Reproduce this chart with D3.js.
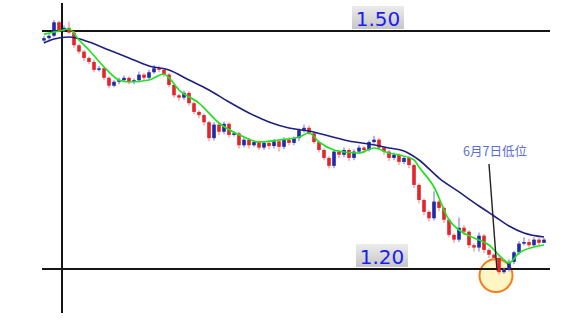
<!DOCTYPE html>
<html>
<head>
<meta charset="utf-8">
<script src="https://cdn.jsdelivr.net/npm/d3@7"></script>
<style>
  body { margin: 0; background: #fff; }
  svg { display: block; }
</style>
</head>
<body>
<div class="chart"></div>
<script>
// daily candles, oldest first
const opens = [
  1.488,1.491,1.494,1.511,1.501,1.504,1.498,1.482,1.474,1.466,
  1.461,1.451,1.453,1.441,1.431,1.436,1.438,1.441,1.436,1.438,
  1.445,1.441,1.448,1.453,1.451,1.445,1.432,1.419,1.416,1.422,
  1.409,1.398,1.394,1.385,1.365,1.382,1.373,1.383,1.369,1.371,
  1.356,1.363,1.356,1.360,1.353,1.359,1.355,1.361,1.354,1.363,
  1.359,1.365,1.375,1.378,1.371,1.360,1.350,1.340,1.330,1.348,
  1.344,1.350,1.340,1.348,1.353,1.350,1.360,1.363,1.353,1.348,
  1.340,1.344,1.335,1.340,1.331,1.306,1.287,1.272,1.264,1.285,
  1.277,1.262,1.243,1.237,1.252,1.247,1.230,1.227,1.242,1.224,
  1.218,1.214,1.196,1.199,1.209,1.221,1.232,1.234,1.230,1.237,
  1.233
];
const closes = [
  1.491,1.494,1.511,1.501,1.504,1.498,1.482,1.474,1.466,1.461,
  1.451,1.453,1.441,1.431,1.436,1.438,1.441,1.436,1.438,1.445,
  1.441,1.448,1.453,1.451,1.445,1.432,1.419,1.416,1.422,1.409,
  1.398,1.394,1.385,1.365,1.382,1.373,1.383,1.369,1.371,1.356,
  1.363,1.356,1.360,1.353,1.359,1.355,1.361,1.354,1.363,1.359,
  1.365,1.375,1.378,1.371,1.360,1.350,1.340,1.330,1.348,1.344,
  1.350,1.340,1.348,1.353,1.350,1.360,1.363,1.353,1.348,1.340,
  1.344,1.335,1.340,1.331,1.306,1.287,1.272,1.264,1.285,1.277,
  1.262,1.243,1.237,1.252,1.247,1.230,1.227,1.242,1.224,1.218,
  1.214,1.196,1.199,1.209,1.221,1.232,1.234,1.230,1.237,1.233,
  1.237
];
const highs = [
  1.494,1.497,1.514,1.513,1.507,1.512,1.500,1.484,1.476,1.468,
  1.464,1.456,1.455,1.443,1.438,1.441,1.444,1.443,1.440,1.449,
  1.447,1.451,1.457,1.456,1.453,1.447,1.434,1.421,1.425,1.424,
  1.411,1.400,1.396,1.387,1.385,1.384,1.386,1.385,1.374,1.373,
  1.366,1.365,1.362,1.362,1.361,1.361,1.364,1.363,1.366,1.366,
  1.367,1.377,1.382,1.381,1.373,1.362,1.352,1.342,1.350,1.350,
  1.353,1.352,1.351,1.356,1.355,1.362,1.368,1.365,1.355,1.350,
  1.347,1.346,1.342,1.342,1.333,1.308,1.289,1.274,1.298,1.287,
  1.279,1.264,1.245,1.265,1.255,1.249,1.232,1.246,1.244,1.226,
  1.220,1.216,1.202,1.212,1.223,1.235,1.240,1.238,1.240,1.240,
  1.239
];
const lows = [
  1.486,1.489,1.492,1.499,1.499,1.496,1.479,1.471,1.462,1.458,
  1.448,1.449,1.438,1.428,1.429,1.433,1.436,1.433,1.433,1.435,
  1.438,1.439,1.446,1.448,1.442,1.429,1.416,1.412,1.413,1.406,
  1.395,1.390,1.381,1.361,1.362,1.369,1.370,1.366,1.367,1.352,
  1.353,1.352,1.354,1.350,1.350,1.351,1.352,1.348,1.351,1.356,
  1.356,1.361,1.372,1.369,1.358,1.347,1.337,1.327,1.327,1.340,
  1.341,1.336,1.337,1.346,1.346,1.348,1.358,1.350,1.344,1.336,
  1.337,1.331,1.332,1.327,1.302,1.283,1.268,1.260,1.261,1.273,
  1.258,1.240,1.233,1.234,1.243,1.226,1.222,1.222,1.220,1.214,
  1.210,1.193,1.194,1.197,1.206,1.218,1.230,1.227,1.228,1.230,
  1.233
];

// moving averages at these candle indices
const fastIdx = [0,3,5,7,9,12,15,17,21,24,25,27,31,35,40,43,47,51,53,55,58,60,63,66,69,71,74,75,78,81,83,86,89,91,93,95,98,100];
const fastMa = [1.496,1.500,1.5025,1.4887,1.476,1.4546,1.4382,1.4357,1.4382,1.4458,1.4408,1.4256,1.4092,1.384,1.3664,1.3601,1.3626,1.3664,1.3714,1.3601,1.35,1.3475,1.3462,1.3525,1.3462,1.3437,1.3374,1.3286,1.3034,1.2618,1.2492,1.2391,1.2303,1.2176,1.2076,1.2202,1.2277,1.2303];
const slowIdx = [0,2,5,9,13,17,21,25,29,33,37,41,45,49,53,57,61,65,69,72,75,79,83,87,90,93,96,100];
const slowMa = [1.4849,1.4899,1.4924,1.4861,1.476,1.466,1.4559,1.4508,1.4382,1.4256,1.4105,1.3966,1.3853,1.3777,1.3739,1.3676,1.3613,1.3575,1.3525,1.3487,1.3374,1.3147,1.2971,1.2794,1.2668,1.2542,1.2454,1.2403];

const levels = [1.50, 1.20];
const levelLabels = ["1.50", "1.20"];
const lowIndex = 91;
const noteText = "6月7日低位";

const width = 580, height = 325;

const x = d3.scaleLinear().domain([0, 100]).range([44, 544]);
const y = d3.scaleLinear().domain([1.20, 1.50]).range([269, 31]);

const svg = d3.select(".chart").append("svg")
  .attr("width", width)
  .attr("height", height);

const defs = svg.append("defs");
const grad = defs.append("linearGradient")
  .attr("id", "lblGrad").attr("x1", 0).attr("y1", 0).attr("x2", 0).attr("y2", 1);
grad.append("stop").attr("offset", "0%").attr("stop-color", "#ececec");
grad.append("stop").attr("offset", "100%").attr("stop-color", "#c6c6c6");

// highlight circle at the low
svg.append("circle")
  .attr("cx", x(lowIndex) - 3)
  .attr("cy", y(lows[lowIndex]) + 1)
  .attr("r", 16.5)
  .attr("fill", "#fff6c4")
  .attr("stroke", "#f47c20")
  .attr("stroke-width", 2);

// level lines
svg.append("g")
  .selectAll("line")
  .data(levels)
  .join("line")
  .attr("x1", 42)
  .attr("x2", 550)
  .attr("y1", d => y(d))
  .attr("y2", d => y(d))
  .attr("stroke", "#151515")
  .attr("stroke-width", 2);

// vertical marker
svg.append("line")
  .attr("x1", 62).attr("x2", 62)
  .attr("y1", 3).attr("y2", 313)
  .attr("stroke", "#151515")
  .attr("stroke-width", 2);

// level labels
const lbl = svg.append("g")
  .selectAll("g")
  .data(levels)
  .join("g")
  .attr("transform", (d, i) => `translate(${i === 0 ? 352 : 356},${y(d) - 25})`);
lbl.append("rect")
  .attr("width", 52)
  .attr("height", 23)
  .attr("fill", "url(#lblGrad)");
lbl.append("text")
  .attr("x", 26)
  .attr("y", 19.5)
  .attr("text-anchor", "middle")
  .attr("font-family", "DejaVu Sans, Verdana, sans-serif")
  .attr("font-size", 20)
  .attr("fill", "#1c1cf0")
  .text((d, i) => levelLabels[i]);

// candles
const candles = d3.range(closes.length);
const up = i => closes[i] >= opens[i];

svg.append("g")
  .selectAll("line")
  .data(candles)
  .join("line")
  .attr("x1", i => x(i))
  .attr("x2", i => x(i))
  .attr("y1", i => y(highs[i]))
  .attr("y2", i => y(lows[i]))
  .attr("stroke", i => up(i) ? "#8585d8" : "#f09090")
  .attr("stroke-width", 1.2);

svg.append("g")
  .selectAll("rect")
  .data(candles)
  .join("rect")
  .attr("x", i => x(i) - 1.8)
  .attr("width", 3.6)
  .attr("y", i => y(Math.max(opens[i], closes[i])))
  .attr("height", i => Math.max(1.5, Math.abs(y(opens[i]) - y(closes[i]))))
  .attr("fill", i => up(i) ? "#1f2aa8" : "#e3242b");

// moving averages
const line = d3.line()
  .x(d => x(d[0]))
  .y(d => y(d[1]))
  .curve(d3.curveMonotoneX);

svg.append("path")
  .datum(slowIdx.map((d, i) => [d, slowMa[i]]))
  .attr("d", line)
  .attr("fill", "none")
  .attr("stroke", "#1e2080")
  .attr("stroke-width", 1.6);

svg.append("path")
  .datum(fastIdx.map((d, i) => [d, fastMa[i]]))
  .attr("d", line)
  .attr("fill", "none")
  .attr("stroke", "#22e022")
  .attr("stroke-width", 1.7);

// annotation
svg.append("line")
  .attr("x1", 489).attr("y1", 164)
  .attr("x2", x(lowIndex) - 2).attr("y2", y(lows[lowIndex]) - 4)
  .attr("stroke", "#222")
  .attr("stroke-width", 1.4);

svg.append("text")
  .attr("x", 495)
  .attr("y", 156)
  .attr("text-anchor", "middle")
  .attr("font-family", "Noto Sans CJK SC, sans-serif")
  .attr("font-size", 12.5)
  .attr("fill", "#5b6fd2")
  .text(noteText);
</script>
</body>
</html>
